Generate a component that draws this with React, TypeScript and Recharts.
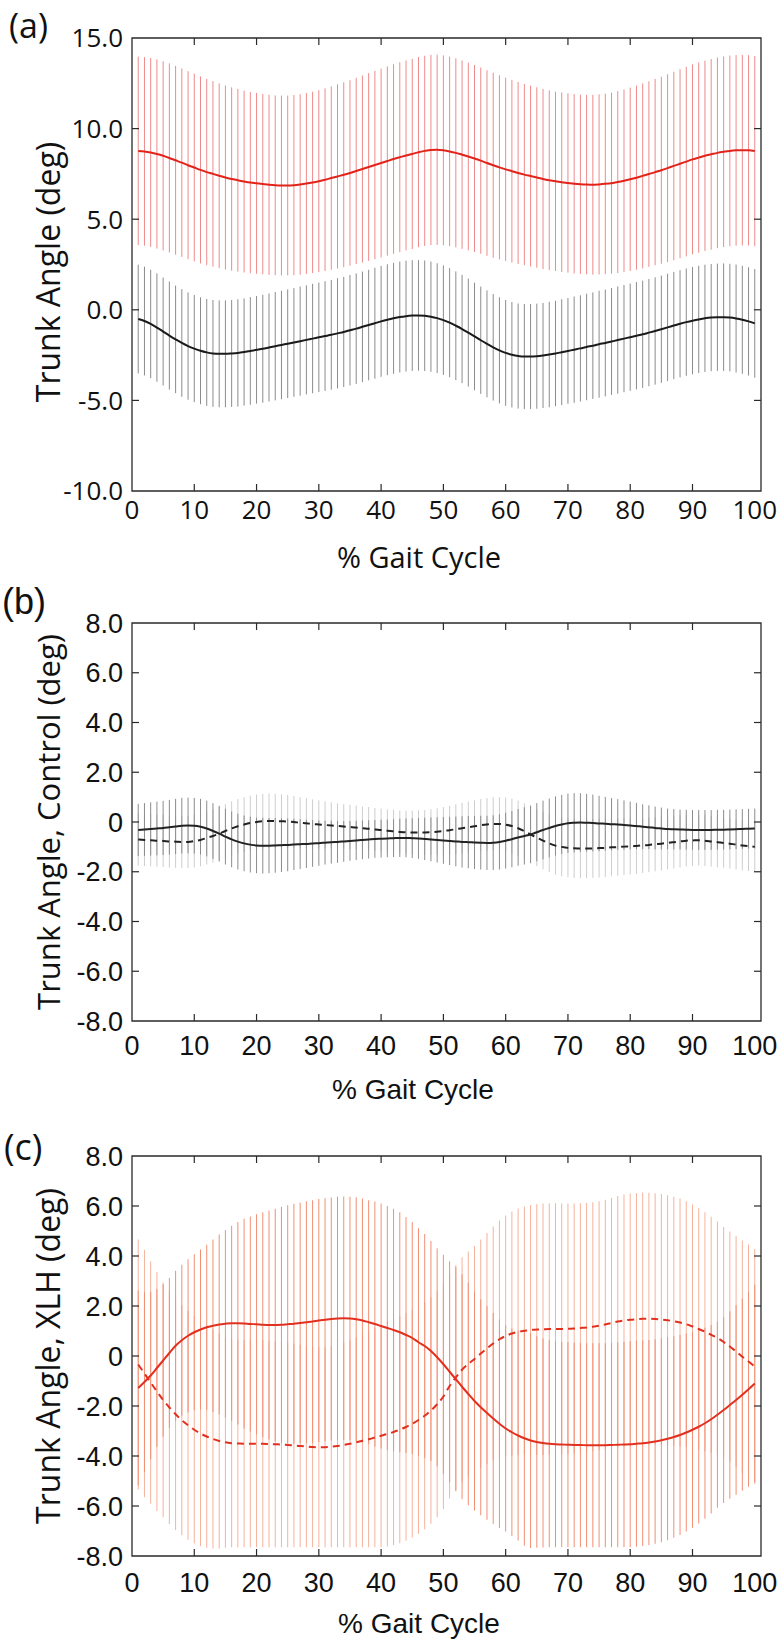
import React from 'react';
import { ComposedChart, Line, XAxis, YAxis, ErrorBar, ReferenceArea } from 'recharts';

// ---------- data (x = 1..100 % gait cycle) ----------
const gaitPct: number[] = Array.from({ length: 100 }, (_, i) => i + 1);
const xTicks = [0, 10, 20, 30, 40, 50, 60, 70, 80, 90, 100];
const xTickLabels = ['0', '10', '20', '30', '40', '50', '60', '70', '80', '90', '100'];

// Panel (a)
const aTicks = [-10, -5, 0, 5, 10, 15];
const aTickLabels = ['-10.0', '-5.0', '0.0', '5.0', '10.0', '15.0'];
const aRedMean = [
  8.77, 8.74, 8.68, 8.6, 8.5, 8.38, 8.25, 8.12, 7.98, 7.85,
  7.72, 7.6, 7.5, 7.4, 7.3, 7.22, 7.15, 7.08, 7.02, 6.98,
  6.94, 6.9, 6.87, 6.86, 6.86, 6.88, 6.92, 6.97, 7.03, 7.1,
  7.18, 7.27, 7.36, 7.45, 7.55, 7.66, 7.77, 7.88, 7.99, 8.1,
  8.21, 8.32, 8.42, 8.52, 8.6, 8.7, 8.77, 8.82, 8.83, 8.8,
  8.74, 8.66, 8.56, 8.46, 8.35, 8.23, 8.1, 7.98, 7.86, 7.75,
  7.65, 7.55, 7.46, 7.38, 7.3, 7.22, 7.15, 7.09, 7.04, 7.0,
  6.96, 6.93, 6.91, 6.9, 6.92, 6.95, 6.99, 7.05, 7.12, 7.2,
  7.29, 7.39, 7.49, 7.6, 7.7, 7.82, 7.94, 8.06, 8.18, 8.3,
  8.4, 8.5, 8.58, 8.66, 8.72, 8.77, 8.8, 8.81, 8.8, 8.76,
];
const aRedSd = [
  5.2, 5.2, 5.21, 5.22, 5.22, 5.22, 5.21, 5.2, 5.19, 5.18,
  5.16, 5.14, 5.12, 5.1, 5.08, 5.06, 5.04, 5.02, 5.0, 4.99,
  4.98, 4.97, 4.96, 4.96, 4.96, 4.97, 4.98, 4.99, 5.0, 5.02,
  5.04, 5.06, 5.08, 5.1, 5.12, 5.14, 5.16, 5.18, 5.2, 5.21,
  5.22, 5.23, 5.24, 5.24, 5.25, 5.25, 5.25, 5.25, 5.25, 5.24,
  5.23, 5.22, 5.2, 5.18, 5.16, 5.14, 5.12, 5.1, 5.08, 5.06,
  5.04, 5.02, 5.0, 4.99, 4.98, 4.97, 4.96, 4.95, 4.95, 4.95,
  4.95, 4.95, 4.95, 4.96, 4.97, 4.98, 5.0, 5.02, 5.04, 5.06,
  5.08, 5.1, 5.12, 5.14, 5.16, 5.18, 5.2, 5.22, 5.23, 5.24,
  5.25, 5.25, 5.26, 5.26, 5.26, 5.26, 5.26, 5.26, 5.25, 5.25,
];
const aBlackMean = [
  -0.51, -0.62, -0.78, -0.98, -1.2, -1.42, -1.63, -1.83, -2.0, -2.14,
  -2.26, -2.35, -2.41, -2.43, -2.43, -2.41, -2.38, -2.33, -2.27, -2.21,
  -2.15, -2.08, -2.01, -1.94, -1.87, -1.8, -1.73, -1.66, -1.59, -1.52,
  -1.45, -1.38, -1.3, -1.22, -1.13, -1.04, -0.94, -0.84, -0.74, -0.64,
  -0.55, -0.47, -0.4, -0.35, -0.32, -0.31, -0.33, -0.38, -0.46, -0.57,
  -0.71, -0.88, -1.06, -1.26, -1.47, -1.68, -1.88, -2.07, -2.24, -2.38,
  -2.48, -2.55, -2.58, -2.58, -2.56, -2.52, -2.47, -2.41, -2.34, -2.27,
  -2.2, -2.13, -2.05, -1.98, -1.9, -1.83, -1.75, -1.67, -1.59, -1.51,
  -1.43, -1.35, -1.26, -1.17, -1.07, -0.97, -0.87, -0.77, -0.68, -0.6,
  -0.53, -0.47, -0.43, -0.41, -0.41, -0.43, -0.48, -0.55, -0.64, -0.75,
];
const aBlackSd = [
  3.0, 3.0, 2.99, 2.99, 2.98, 2.98, 2.97, 2.97, 2.96, 2.96,
  2.95, 2.95, 2.95, 2.95, 2.95, 2.95, 2.96, 2.96, 2.97, 2.97,
  2.98, 2.98, 2.99, 2.99, 3.0, 3.0, 3.01, 3.01, 3.02, 3.02,
  3.03, 3.03, 3.04, 3.04, 3.05, 3.05, 3.05, 3.05, 3.06, 3.06,
  3.06, 3.06, 3.06, 3.06, 3.06, 3.05, 3.05, 3.04, 3.03, 3.02,
  3.01, 3.0, 2.99, 2.98, 2.97, 2.96, 2.95, 2.94, 2.93, 2.92,
  2.91, 2.9, 2.9, 2.9, 2.9, 2.9, 2.91, 2.91, 2.92, 2.92,
  2.93, 2.93, 2.94, 2.94, 2.95, 2.95, 2.95, 2.96, 2.96, 2.96,
  2.96, 2.96, 2.96, 2.96, 2.96, 2.96, 2.96, 2.96, 2.96, 2.96,
  2.96, 2.96, 2.96, 2.96, 2.97, 2.97, 2.98, 2.98, 2.99, 3.0,
];

// Panel (b) Control
const bcTicks = [-8, -6, -4, -2, 0, 2, 4, 6, 8];
const bcTickLabels = ['-8.0', '-6.0', '-4.0', '-2.0', '0', '2.0', '4.0', '6.0', '8.0'];
const bSolidMean = [
  -0.32, -0.3, -0.28, -0.26, -0.24, -0.21, -0.18, -0.15, -0.14, -0.15,
  -0.19, -0.26, -0.36, -0.47, -0.59, -0.7, -0.79, -0.86, -0.91, -0.94,
  -0.95, -0.95, -0.94, -0.93, -0.92, -0.9, -0.89, -0.88, -0.86, -0.85,
  -0.83, -0.81, -0.8, -0.78, -0.76, -0.74, -0.72, -0.7, -0.68, -0.67,
  -0.66, -0.65, -0.64, -0.64, -0.65, -0.66, -0.68, -0.7, -0.72, -0.74,
  -0.76, -0.78, -0.8, -0.81, -0.82, -0.83, -0.84, -0.83, -0.8, -0.75,
  -0.69, -0.62, -0.56, -0.5, -0.41, -0.32, -0.24, -0.16, -0.1, -0.05,
  -0.03, -0.02, -0.03, -0.04, -0.06, -0.07, -0.09, -0.1, -0.12, -0.14,
  -0.16, -0.19, -0.21, -0.24, -0.26, -0.28, -0.29, -0.3, -0.31, -0.32,
  -0.32, -0.32, -0.32, -0.31, -0.31, -0.3, -0.29, -0.28, -0.27, -0.26,
];
const bSolidSd = [
  1.05, 1.06, 1.07, 1.08, 1.09, 1.1, 1.11, 1.12, 1.12, 1.12,
  1.12, 1.12, 1.12, 1.12, 1.12, 1.12, 1.12, 1.12, 1.12, 1.12,
  1.12, 1.11, 1.1, 1.08, 1.06, 1.03, 1.0, 0.97, 0.94, 0.91,
  0.88, 0.86, 0.84, 0.82, 0.8, 0.79, 0.78, 0.77, 0.76, 0.76,
  0.76, 0.76, 0.77, 0.78, 0.8, 0.82, 0.85, 0.88, 0.91, 0.94,
  0.97, 1.0, 1.03, 1.05, 1.07, 1.08, 1.09, 1.1, 1.11, 1.12,
  1.13, 1.14, 1.15, 1.16, 1.17, 1.18, 1.18, 1.19, 1.19, 1.19,
  1.19, 1.18, 1.16, 1.14, 1.11, 1.08, 1.05, 1.02, 0.99, 0.96,
  0.93, 0.9, 0.88, 0.86, 0.84, 0.82, 0.81, 0.8, 0.8, 0.8,
  0.8, 0.8, 0.8, 0.8, 0.8, 0.8, 0.8, 0.8, 0.8, 0.8,
];
const bDashMean = [
  -0.7, -0.72, -0.73, -0.75, -0.76, -0.78, -0.79, -0.8, -0.8, -0.77,
  -0.72, -0.64, -0.56, -0.47, -0.36, -0.26, -0.17, -0.1, -0.04, 0.0,
  0.03, 0.04, 0.04, 0.03, 0.02, 0.0, -0.03, -0.05, -0.08, -0.1,
  -0.12, -0.14, -0.16, -0.18, -0.2, -0.22, -0.25, -0.27, -0.3, -0.32,
  -0.35, -0.37, -0.4, -0.41, -0.42, -0.42, -0.42, -0.41, -0.39, -0.36,
  -0.33, -0.29, -0.25, -0.21, -0.17, -0.13, -0.1, -0.08, -0.08, -0.11,
  -0.16, -0.25, -0.37, -0.5, -0.63, -0.75, -0.86, -0.95, -1.0, -1.04,
  -1.06, -1.07, -1.07, -1.06, -1.05, -1.04, -1.02, -1.01, -0.99, -0.98,
  -0.96, -0.94, -0.92, -0.89, -0.87, -0.84, -0.81, -0.78, -0.75, -0.74,
  -0.73, -0.75, -0.78, -0.81, -0.84, -0.87, -0.91, -0.94, -0.97, -1.0,
];
const bDashSd = [
  1.05, 1.05, 1.05, 1.05, 1.05, 1.05, 1.05, 1.05, 1.05, 1.06,
  1.06, 1.07, 1.07, 1.08, 1.08, 1.09, 1.09, 1.1, 1.1, 1.1,
  1.1, 1.1, 1.09, 1.08, 1.07, 1.05, 1.03, 1.01, 0.99, 0.97,
  0.95, 0.93, 0.91, 0.9, 0.89, 0.88, 0.87, 0.87, 0.86, 0.86,
  0.86, 0.86, 0.86, 0.87, 0.88, 0.89, 0.9, 0.92, 0.94, 0.96,
  0.98, 1.0, 1.02, 1.03, 1.04, 1.05, 1.06, 1.07, 1.08, 1.09,
  1.1, 1.11, 1.12, 1.13, 1.14, 1.15, 1.16, 1.17, 1.18, 1.18,
  1.19, 1.19, 1.19, 1.18, 1.18, 1.17, 1.16, 1.15, 1.14, 1.13,
  1.12, 1.11, 1.1, 1.09, 1.08, 1.07, 1.06, 1.05, 1.04, 1.03,
  1.02, 1.02, 1.01, 1.01, 1.0, 1.0, 1.0, 1.0, 1.0, 1.0,
];

// Panel (c) XLH
const cSolidMean = [
  -1.28, -1.04, -0.78, -0.48, -0.18, 0.12, 0.41, 0.63, 0.81, 0.95,
  1.06, 1.15, 1.21, 1.26, 1.29, 1.31, 1.31, 1.3, 1.28, 1.27,
  1.25, 1.24, 1.24, 1.25, 1.27, 1.29, 1.32, 1.35, 1.38, 1.42,
  1.45, 1.48, 1.5, 1.51, 1.5, 1.47, 1.42, 1.35, 1.28, 1.2,
  1.12, 1.04, 0.95, 0.84, 0.72, 0.55, 0.4, 0.2, -0.05, -0.33,
  -0.63, -0.93, -1.23, -1.52, -1.8, -2.05, -2.28, -2.5, -2.71, -2.9,
  -3.05, -3.18, -3.29, -3.38, -3.44, -3.48, -3.51, -3.53, -3.54, -3.55,
  -3.56, -3.56, -3.57, -3.57, -3.57, -3.57, -3.56, -3.55, -3.54, -3.53,
  -3.51, -3.49, -3.46, -3.42, -3.37, -3.31, -3.24, -3.16, -3.06, -2.95,
  -2.83, -2.69, -2.53, -2.35, -2.16, -1.96, -1.76, -1.55, -1.33, -1.1,
];
const cSolidSd = [
  3.9, 3.6, 3.35, 3.15, 3.05, 3.0, 3.0, 3.02, 3.06, 3.12,
  3.2, 3.3, 3.45, 3.6, 3.75, 3.9, 4.05, 4.2, 4.3, 4.4,
  4.5, 4.58, 4.65, 4.72, 4.76, 4.8, 4.82, 4.84, 4.85, 4.86,
  4.86, 4.86, 4.87, 4.87, 4.87, 4.88, 4.88, 4.88, 4.9, 4.9,
  4.88, 4.85, 4.8, 4.72, 4.64, 4.56, 4.48, 4.4, 4.36, 4.38,
  4.42, 4.48, 4.5, 4.45, 4.38, 4.32, 4.27, 4.22, 4.17, 4.12,
  4.15, 4.2, 4.3, 4.3, 4.23, 4.18, 4.14, 4.12, 4.11, 4.1,
  4.09, 4.09, 4.08, 4.08, 4.08, 4.08, 4.09, 4.1, 4.11, 4.12,
  4.12, 4.11, 4.1, 4.09, 4.08, 4.06, 4.03, 4.0, 3.96, 3.92,
  3.87, 3.82, 3.77, 3.72, 3.72, 3.75, 3.79, 3.84, 3.9, 3.95,
];
const cDashMean = [
  -0.34, -0.7, -1.06, -1.42, -1.76, -2.06, -2.33, -2.57, -2.77, -2.95,
  -3.1, -3.22, -3.32, -3.4, -3.45, -3.49, -3.5, -3.51, -3.51, -3.51,
  -3.51, -3.52, -3.53, -3.54, -3.56, -3.58, -3.6, -3.62, -3.64, -3.65,
  -3.65, -3.63, -3.6, -3.56, -3.51, -3.45, -3.39, -3.33, -3.26, -3.19,
  -3.12, -3.04, -2.95, -2.84, -2.71, -2.56, -2.39, -2.18, -1.93, -1.62,
  -1.2, -0.86, -0.55, -0.32, -0.12, 0.1, 0.3, 0.5, 0.67, 0.8,
  0.9, 0.97, 1.01, 1.04, 1.06, 1.07, 1.08, 1.08, 1.08, 1.09,
  1.1, 1.12, 1.14, 1.17, 1.21, 1.26, 1.32, 1.38, 1.42, 1.45,
  1.47, 1.49, 1.49, 1.48, 1.46, 1.43, 1.39, 1.34, 1.27, 1.18,
  1.08, 0.97, 0.85, 0.72, 0.56, 0.38, 0.18, -0.03, -0.22, -0.42,
];
const cDashSd = [
  5.0, 4.95, 4.85, 4.78, 4.7, 4.66, 4.63, 4.6, 4.58, 4.55,
  4.5, 4.45, 4.38, 4.3, 4.22, 4.16, 4.15, 4.14, 4.14, 4.14,
  4.14, 4.13, 4.12, 4.11, 4.09, 4.07, 4.05, 4.03, 4.01, 4.0,
  4.0, 4.02, 4.05, 4.09, 4.14, 4.2, 4.26, 4.32, 4.39, 4.46,
  4.5, 4.52, 4.54, 4.55, 4.55, 4.55, 4.54, 4.53, 4.52, 4.5,
  4.5, 4.5, 4.5, 4.5, 4.52, 4.56, 4.62, 4.68, 4.75, 4.82,
  4.88, 4.93, 4.97, 5.0, 5.02, 5.03, 5.03, 5.03, 5.02, 5.01,
  5.0, 4.99, 4.98, 4.98, 4.98, 4.99, 5.0, 5.02, 5.04, 5.05,
  5.05, 5.05, 5.04, 5.03, 5.02, 5.0, 4.98, 4.96, 4.92, 4.88,
  4.83, 4.78, 4.72, 4.66, 4.6, 4.6, 4.62, 4.65, 4.68, 4.7,
];

// ---------- rows for the library ----------
const rowsA = gaitPct.map((x, i) => ({ x, rm: aRedMean[i], rs: aRedSd[i], km: aBlackMean[i], ks: aBlackSd[i] }));
const rowsB = gaitPct.map((x, i) => ({ x, sm: bSolidMean[i], ss: bSolidSd[i], dm: bDashMean[i], ds: bDashSd[i] }));
const rowsC = gaitPct.map((x, i) => ({ x, sm: cSolidMean[i], ss: cSolidSd[i], dm: cDashMean[i], ds: cDashSd[i] }));

const OPEN = "'Open Sans', 'Liberation Sans', sans-serif";
const LIB = "'Liberation Sans', Arial, sans-serif";
const AXIS = '#2a2a2a';
const X_DOMAIN: [number, number] = [0, 101];

type PanelCfg = {
  plotW: number;
  plotH: number;
  yMin: number;
  yMax: number;
  yTicks: number[];
  yLabels: string[];
  tickFont: string;
  tickSize: number;
  xLabelDy: number;
};

const makeXTick = (cfg: PanelCfg) => (p: any) => {
  const { x, y, payload } = p;
  const v = payload.value;
  const idx = xTicks.indexOf(v);
  const inner = v > 0 && v < 100;
  return (
    <g>
      {inner && <line x1={x} x2={x} y1={y} y2={y - 7} stroke={AXIS} strokeWidth={1.2} />}
      {inner && <line x1={x} x2={x} y1={y - cfg.plotH} y2={y - cfg.plotH + 7} stroke={AXIS} strokeWidth={1.2} />}
      <text x={x} y={y + cfg.xLabelDy} textAnchor="middle" fontFamily={cfg.tickFont} fontSize={cfg.tickSize} fill="#111">
        {xTickLabels[idx]}
      </text>
    </g>
  );
};

const makeYTick = (cfg: PanelCfg) => (p: any) => {
  const { x, y, payload } = p;
  const v = payload.value;
  const idx = cfg.yTicks.indexOf(v);
  const inner = v > cfg.yMin && v < cfg.yMax;
  return (
    <g>
      {inner && <line x1={x} x2={x + 7} y1={y} y2={y} stroke={AXIS} strokeWidth={1.2} />}
      {inner && <line x1={x + cfg.plotW} x2={x + cfg.plotW - 7} y1={y} y2={y} stroke={AXIS} strokeWidth={1.2} />}
      <text x={x - 9} y={y} dy="0.36em" textAnchor="end" fontFamily={cfg.tickFont} fontSize={cfg.tickSize} fill="#111">
        {cfg.yLabels[idx]}
      </text>
    </g>
  );
};

const cfgA: PanelCfg = { plotW: 629, plotH: 453, yMin: -10, yMax: 15, yTicks: aTicks, yLabels: aTickLabels, tickFont: OPEN, tickSize: 26, xLabelDy: 28 };
const cfgB: PanelCfg = { plotW: 629, plotH: 398, yMin: -8, yMax: 8, yTicks: bcTicks, yLabels: bcTickLabels, tickFont: LIB, tickSize: 27, xLabelDy: 34 };
const cfgC: PanelCfg = { plotW: 629, plotH: 400, yMin: -8, yMax: 8, yTicks: bcTicks, yLabels: bcTickLabels, tickFont: LIB, tickSize: 27, xLabelDy: 36 };

const axes = (cfg: PanelCfg, xh: number) => [
  <XAxis key="x" dataKey="x" type="number" domain={X_DOMAIN} allowDataOverflow ticks={xTicks} interval={0}
    height={xh} axisLine={false} tickLine={false} tickSize={0} tickMargin={0} tick={makeXTick(cfg)} />,
  <YAxis key="y" type="number" domain={[cfg.yMin, cfg.yMax]} allowDataOverflow ticks={cfg.yTicks} interval={0}
    width={132} axisLine={false} tickLine={false} tickSize={0} tickMargin={0} tick={makeYTick(cfg)} />,
];

const frame = (cfg: PanelCfg) => (
  <ReferenceArea x1={X_DOMAIN[0]} x2={X_DOMAIN[1]} y1={cfg.yMin} y2={cfg.yMax} fill="none" fillOpacity={0}
    stroke={AXIS} strokeWidth={1.3} ifOverflow="visible" />
);

const carrier = (mean: string, sd: string, color: string) => (
  <Line dataKey={mean} stroke="none" dot={false} activeDot={false} isAnimationActive={false} legendType="none">
    <ErrorBar dataKey={sd} width={0} stroke={color} strokeWidth={1} direction="y" isAnimationActive={false} />
  </Line>
);

const meanLine = (key: string, color: string, dash?: string) => (
  <Line dataKey={key} type="monotone" stroke={color} strokeWidth={2} strokeDasharray={dash} dot={false}
    activeDot={false} isAnimationActive={false} />
);

export default function App() {
  return (
    <div style={{ position: 'absolute', left: 0, top: 0, width: 782, height: 1640, background: '#fff' }}>
      <div style={{ position: 'absolute', left: 0, top: 0 }}>
        <ComposedChart width={782} height={560} data={rowsA} margin={{ top: 38, right: 21, left: 0, bottom: 0 }}>
          {axes(cfgA, 69)}
          {carrier('rm', 'rs', '#ef8a8a')}
          {carrier('km', 'ks', '#8c8c8c')}
          {meanLine('rm', '#e2231a')}
          {meanLine('km', '#1a1a1a')}
          {frame(cfgA)}
        </ComposedChart>
      </div>
      <div style={{ position: 'absolute', left: 0, top: 560 }}>
        <ComposedChart width={782} height={540} data={rowsB} margin={{ top: 63, right: 21, left: 0, bottom: 0 }}>
          {axes(cfgB, 79)}
          {carrier('dm', 'ds', '#cdcdcd')}
          {carrier('sm', 'ss', '#8c8c8c')}
          {meanLine('dm', '#222', '7 5')}
          {meanLine('sm', '#222')}
          {frame(cfgB)}
        </ComposedChart>
      </div>
      <div style={{ position: 'absolute', left: 0, top: 1100 }}>
        <ComposedChart width={782} height={540} data={rowsC} margin={{ top: 56, right: 21, left: 0, bottom: 0 }}>
          {axes(cfgC, 84)}
          {carrier('dm', 'ds', '#f6b29b')}
          {carrier('sm', 'ss', '#f28f72')}
          {meanLine('dm', '#e2301f', '7 5')}
          {meanLine('sm', '#e2301f')}
          {frame(cfgC)}
        </ComposedChart>
      </div>
      <svg width={782} height={1640} style={{ position: 'absolute', left: 0, top: 0, pointerEvents: 'none' }}>
        <text x={9} y={38} fontFamily={OPEN} fontSize={34} fill="#111">(a)</text>
        <text x={2} y={614} fontFamily={LIB} fontSize={36} fill="#111">(b)</text>
        <text x={4} y={1160} fontFamily={OPEN} fontSize={36} fill="#111">(c)</text>

        <text x={419} y={568} textAnchor="middle" fontFamily={OPEN} fontSize={29} fill="#111">% Gait Cycle</text>
        <text x={413} y={1099} textAnchor="middle" fontFamily={LIB} fontSize={28} fill="#111">% Gait Cycle</text>
        <text x={419} y={1633} textAnchor="middle" fontFamily={LIB} fontSize={28} fill="#111">% Gait Cycle</text>

        <text transform="translate(60,272) rotate(-90)" textAnchor="middle" fontFamily={OPEN} fontSize={32} fill="#111">Trunk Angle (deg)</text>
        <text transform="translate(60,822) rotate(-90)" textAnchor="middle" fontFamily={OPEN} fontSize={31} fill="#111">Trunk Angle, Control (deg)</text>
        <text transform="translate(60,1356) rotate(-90)" textAnchor="middle" fontFamily={OPEN} fontSize={32} fill="#111">Trunk Angle, XLH (deg)</text>
      </svg>
    </div>
  );
}
